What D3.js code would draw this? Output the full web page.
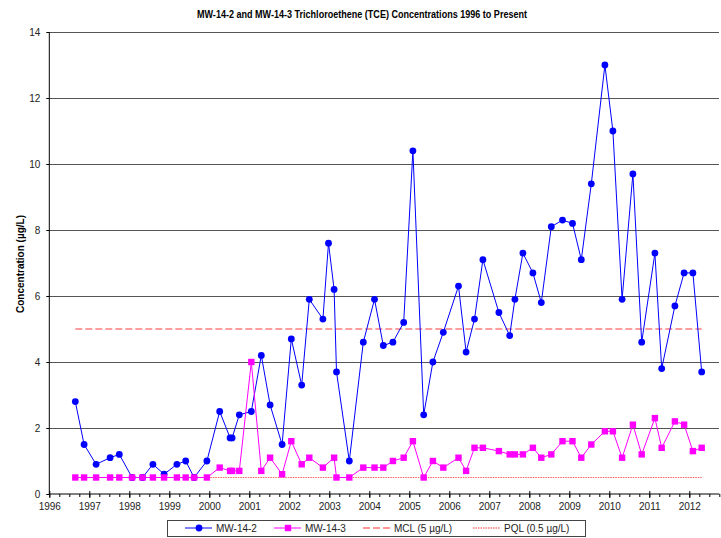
<!DOCTYPE html>
<html>
<head>
<meta charset="utf-8">
<script src="https://cdn.jsdelivr.net/npm/d3@7"></script>
<style>
  body { margin: 0; background: #fff; }
  svg { display: block; font-family: "Liberation Sans", Arial, sans-serif; }
</style>
</head>
<body>
<div id="chart"></div>
<script>
// sample dates (decimal years) and TCE results
const mw142Dates = [1996.65, 1996.87, 1997.17, 1997.52, 1997.75, 1998.07, 1998.33, 1998.59, 1998.87,
  1999.19, 1999.41, 1999.62, 1999.94, 2000.26, 2000.52, 2000.57, 2000.75, 2001.05, 2001.30, 2001.52,
  2001.82, 2002.05, 2002.31, 2002.50, 2002.84, 2002.98, 2003.12, 2003.18, 2003.50, 2003.85, 2004.13,
  2004.35, 2004.59, 2004.86, 2005.09, 2005.36, 2005.59, 2005.85, 2006.23, 2006.42, 2006.63, 2006.84,
  2007.24, 2007.51, 2007.64, 2007.84, 2008.09, 2008.30, 2008.55, 2008.83, 2009.08, 2009.30, 2009.55,
  2009.89, 2010.09, 2010.32, 2010.59, 2010.81, 2011.14, 2011.31, 2011.64, 2011.87, 2012.09, 2012.31]
const mw142Values = [2.8, 1.5, 0.9, 1.1, 1.2, 0.5, 0.5, 0.9, 0.6,
  0.9, 1.0, 0.5, 1.0, 2.5, 1.7, 1.7, 2.4, 2.5, 4.2, 2.7,
  1.5, 4.7, 3.3, 5.9, 5.3, 7.6, 6.2, 3.7, 1.0, 4.6, 5.9,
  4.5, 4.6, 5.2, 10.4, 2.4, 4.0, 4.9, 6.3, 4.3, 5.3, 7.1,
  5.5, 4.8, 5.9, 7.3, 6.7, 5.8, 8.1, 8.3, 8.2, 7.1, 9.4,
  13.0, 11.0, 5.9, 9.7, 4.6, 7.3, 3.8, 5.7, 6.7, 6.7, 3.7]

const mw143Dates = [1996.65, 1996.87, 1997.17, 1997.52, 1997.75, 1998.07, 1998.33, 1998.59, 1998.87,
  1999.19, 1999.41, 1999.62, 1999.94, 2000.26, 2000.52, 2000.57, 2000.75, 2001.05, 2001.30, 2001.52,
  2001.82, 2002.05, 2002.31, 2002.50, 2002.84, 2003.12, 2003.18, 2003.50, 2003.85, 2004.13,
  2004.35, 2004.59, 2004.86, 2005.09, 2005.36, 2005.59, 2005.85, 2006.23, 2006.42, 2006.63, 2006.84,
  2007.24, 2007.51, 2007.64, 2007.84, 2008.09, 2008.30, 2008.55, 2008.83, 2009.08, 2009.30, 2009.55,
  2009.89, 2010.09, 2010.32, 2010.59, 2010.81, 2011.14, 2011.31, 2011.64, 2011.87, 2012.09, 2012.31]
const mw143Values = [0.5, 0.5, 0.5, 0.5, 0.5, 0.5, 0.5, 0.5, 0.5,
  0.5, 0.5, 0.5, 0.5, 0.8, 0.7, 0.7, 0.7, 4.0, 0.7, 1.1,
  0.6, 1.6, 0.9, 1.1, 0.8, 1.1, 0.5, 0.5, 0.8, 0.8,
  0.8, 1.0, 1.1, 1.6, 0.5, 1.0, 0.8, 1.1, 0.7, 1.4, 1.4,
  1.3, 1.2, 1.2, 1.2, 1.4, 1.1, 1.2, 1.6, 1.6, 1.1, 1.5,
  1.9, 1.9, 1.1, 2.1, 1.2, 2.3, 1.4, 2.2, 2.1, 1.3, 1.4]

const mclValue = 5
const pqlValue = 0.5
const yTickValues = [0, 2, 4, 6, 8, 10, 12, 14]
const xYears = d3.range(1996, 2013)
const xQuarters = d3.range(1996, 2012.76, 0.25)

const width = 721, height = 538
const plotLeft = 49.3, plotRight = 719.3, plotTop = 32, plotBottom = 494

const svg = d3.select('#chart').append('svg')
  .attr('width', width).attr('height', height)

const x = d3.scaleLinear().domain([1996, 2012.75]).range([plotLeft, plotRight])
const y = d3.scaleLinear().domain([0, 14]).range([plotBottom, plotTop])

// title
svg.append('text')
  .attr('x', 362).attr('y', 17.5)
  .attr('text-anchor', 'middle')
  .attr('font-size', 10).attr('font-weight', 'bold')
  .attr('textLength', 330).attr('lengthAdjust', 'spacingAndGlyphs')
  .text('MW-14-2 and MW-14-3 Trichloroethene (TCE) Concentrations 1996 to Present')

// horizontal grid
svg.append('g')
  .attr('transform', `translate(${plotLeft},0)`)
  .call(d3.axisLeft(y).tickValues(yTickValues.slice(1)).tickSize(-(plotRight - plotLeft)).tickFormat(''))
  .call(g => g.select('.domain').remove())
  .call(g => g.selectAll('line').attr('stroke', '#555').attr('shape-rendering', 'crispEdges'))

// y axis
svg.append('g')
  .attr('transform', `translate(${plotLeft},0)`)
  .call(d3.axisLeft(y).tickValues(yTickValues).tickSize(3).tickPadding(6))
  .call(g => g.select('.domain').attr('d', `M0,${plotTop}V${plotBottom}`).attr('stroke', '#000'))
  .call(g => g.selectAll('text').attr('font-size', 10).attr('fill', '#222')
    .attr('font-family', '"Liberation Sans", Arial, sans-serif'))

svg.append('text')
  .attr('transform', `translate(24,264) rotate(-90)`)
  .attr('text-anchor', 'middle')
  .attr('font-size', 10).attr('font-weight', 'bold')
  .text('Concentration  (µg/L)')

// x axis: minor quarter ticks, then years
svg.append('g')
  .attr('transform', `translate(0,${plotBottom})`)
  .call(d3.axisBottom(x).tickValues(xQuarters).tickSize(3).tickFormat(''))
  .call(g => g.select('.domain').remove())

svg.append('g')
  .attr('transform', `translate(0,${plotBottom})`)
  .call(d3.axisBottom(x).tickValues(xYears).tickSize(4).tickPadding(5).tickFormat(d3.format('d')))
  .call(g => g.select('.domain').attr('d', `M${plotLeft},0H${plotRight}`).attr('stroke', '#000'))
  .call(g => g.selectAll('.tick line').attr('y1', -3))
  .call(g => g.selectAll('text').attr('font-size', 10).attr('fill', '#222')
    .attr('font-family', '"Liberation Sans", Arial, sans-serif'))

// reference lines
const refStart = x(mw142Dates[0]), refEnd = x(mw142Dates[mw142Dates.length - 1])
svg.append('line')
  .attr('x1', refStart).attr('x2', refEnd)
  .attr('y1', y(mclValue)).attr('y2', y(mclValue))
  .attr('stroke', '#ff7f7f').attr('stroke-width', 1.6).attr('stroke-dasharray', '7,3')
svg.append('line')
  .attr('x1', refStart).attr('x2', refEnd)
  .attr('y1', y(pqlValue)).attr('y2', y(pqlValue))
  .attr('stroke', '#ff6060').attr('stroke-width', 1.2).attr('stroke-dasharray', '1.5,1')

const mw142 = mw142Dates.map((d, i) => [d, mw142Values[i]])
const mw143 = mw143Dates.map((d, i) => [d, mw143Values[i]])
const line = d3.line().x(d => x(d[0])).y(d => y(d[1]))

svg.append('path').datum(mw142)
  .attr('d', line).attr('fill', 'none').attr('stroke', '#0000ff').attr('stroke-width', 1)
svg.append('g').selectAll('circle').data(mw142).join('circle')
  .attr('cx', d => x(d[0])).attr('cy', d => y(d[1])).attr('r', 3.4).attr('fill', '#0000ff')

svg.append('path').datum(mw143)
  .attr('d', line).attr('fill', 'none').attr('stroke', '#ff00ff').attr('stroke-width', 1)
svg.append('g').selectAll('rect').data(mw143).join('rect')
  .attr('x', d => x(d[0]) - 3.2).attr('y', d => y(d[1]) - 3.2)
  .attr('width', 6.4).attr('height', 6.4).attr('fill', '#ff00ff')

// legend
const legend = svg.append('g')
legend.append('rect')
  .attr('x', 167.5).attr('y', 520.5).attr('width', 418).attr('height', 16)
  .attr('fill', '#fff').attr('stroke', '#444').attr('stroke-width', 1)

const legendItems = [
  { label: 'MW-14-2', x: 185, color: '#0000ff', mark: 'circle' },
  { label: 'MW-14-3', x: 274, color: '#ff00ff', mark: 'square' },
  { label: 'MCL (5 µg/L)', x: 363, color: '#ff3030', dash: '7,3', sw: 1.2 },
  { label: 'PQL (0.5 µg/L)', x: 473, color: '#ff3030', dash: '1.5,1', sw: 1 }
]
const ly = 528
legendItems.forEach(it => {
  legend.append('line')
    .attr('x1', it.x).attr('x2', it.x + 27).attr('y1', ly).attr('y2', ly)
    .attr('stroke', it.color).attr('stroke-width', it.sw || 1)
    .attr('stroke-dasharray', it.dash || null)
  if (it.mark === 'circle') {
    legend.append('circle').attr('cx', it.x + 14).attr('cy', ly).attr('r', 3.4).attr('fill', it.color)
  } else if (it.mark === 'square') {
    legend.append('rect').attr('x', it.x + 14 - 3.2).attr('y', ly - 3.2)
      .attr('width', 6.4).attr('height', 6.4).attr('fill', it.color)
  }
  legend.append('text')
    .attr('x', it.x + 31).attr('y', ly + 3.5)
    .attr('font-size', 10).attr('fill', '#222')
    .text(it.label)
})
</script>
</body>
</html>
